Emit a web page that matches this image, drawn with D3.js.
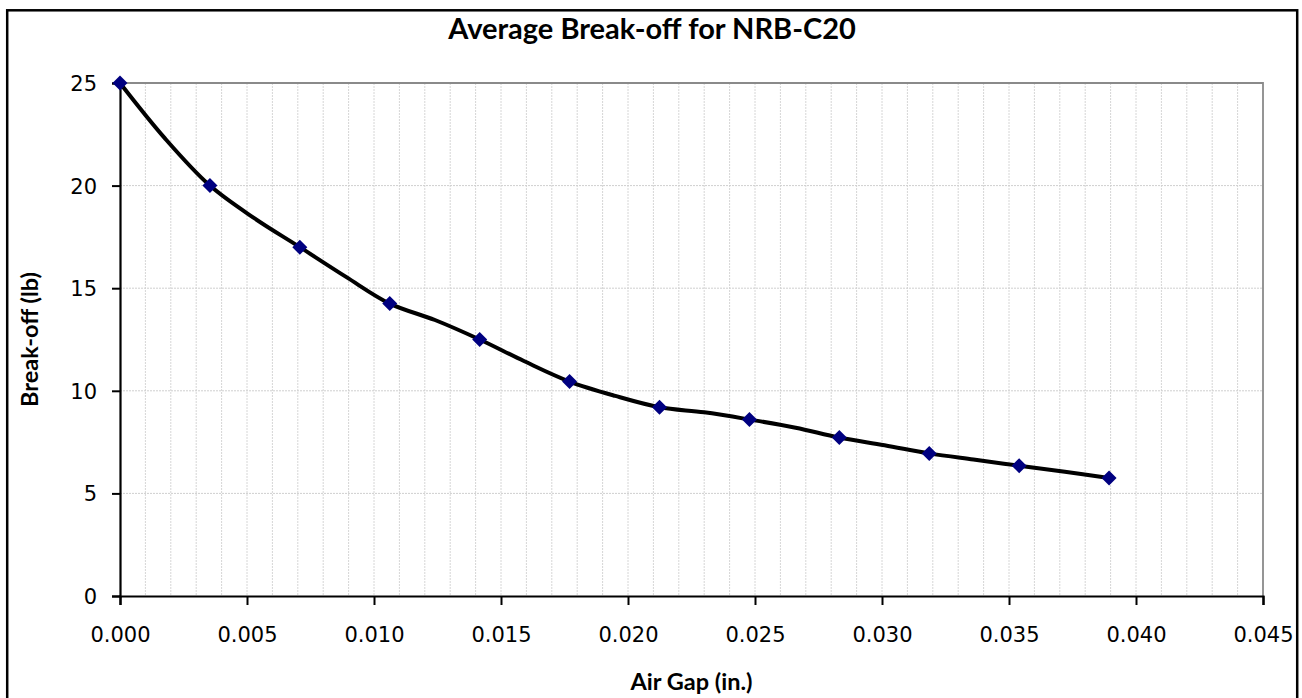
<!DOCTYPE html>
<html>
<head>
<meta charset="utf-8">
<script src="https://cdn.jsdelivr.net/npm/d3@7"></script>
<style>
  html, body { margin: 0; padding: 0; background: #fff; }
  svg { display: block; }
</style>
</head>
<body>
<div id="chart"></div>
<script>
// measured points (air gap in inches, break-off in lb)
const airGap = [0.0000, 0.00354, 0.00708, 0.01062, 0.01416, 0.0177, 0.02124, 0.02478, 0.02832, 0.03186, 0.0354, 0.03894];
const breakOff = [25.0, 20.0, 17.0, 14.25, 12.5, 10.45, 9.2, 8.6, 7.72, 6.95, 6.35, 5.75];

// points of the drawn (smoothed) line
const lineGap = [0.0000, 0.00177, 0.00354, 0.0053, 0.00708, 0.0089, 0.01062, 0.0124, 0.01416, 0.0159, 0.0177, 0.0195,
                 0.02124, 0.0230, 0.02478, 0.0266, 0.02832, 0.0301, 0.03186, 0.0336, 0.0354, 0.0372, 0.03894];
const lineForce = [25.0, 22.3, 20.0, 18.4, 17.0, 15.55, 14.25, 13.45, 12.5, 11.45, 10.45, 9.75,
                   9.2, 8.95, 8.6, 8.2, 7.72, 7.35, 6.95, 6.65, 6.35, 6.05, 5.75];

const xTicks = [0, 0.005, 0.01, 0.015, 0.02, 0.025, 0.03, 0.035, 0.04, 0.045];
const yTicks = [0, 5, 10, 15, 20, 25];

const canvasWidth = 1302;
const canvasHeight = 698;
const plot = { left: 120, right: 1263, top: 83, bottom: 596 };
const tickFont = "'DejaVu Sans', sans-serif";
const titleFont = "Lato, 'Open Sans', sans-serif";

const svg = d3.select("#chart")
    .append("svg")
    .attr("width", canvasWidth)
    .attr("height", canvasHeight);

// chart area border
svg.append("rect")
    .attr("x", 7.2)
    .attr("y", 10.3)
    .attr("width", 1290)
    .attr("height", 700)
    .attr("fill", "#fff")
    .attr("stroke", "#000")
    .attr("stroke-width", 2.5);

const xScale = d3.scaleLinear().domain([0, 0.045]).range([plot.left, plot.right]);
const yScale = d3.scaleLinear().domain([0, 25]).range([plot.bottom, plot.top]);

// minor vertical gridlines every 0.001
const minor = d3.range(1, 45).map(i => i / 1000);
svg.append("g")
    .selectAll("line")
    .data(minor)
    .join("line")
    .attr("x1", d => xScale(d)).attr("x2", d => xScale(d))
    .attr("y1", plot.top).attr("y2", plot.bottom)
    .attr("stroke", "#d6d6d6")
    .attr("stroke-width", 1)
    .attr("stroke-dasharray", "2,1");

// horizontal gridlines
svg.append("g")
    .selectAll("line")
    .data(yTicks.filter(d => d > 0 && d < 25))
    .join("line")
    .attr("x1", plot.left).attr("x2", plot.right)
    .attr("y1", d => yScale(d)).attr("y2", d => yScale(d))
    .attr("stroke", "#cfcfcf")
    .attr("stroke-width", 1)
    .attr("stroke-dasharray", "2,1");

// plot frame top / right
svg.append("path")
    .attr("d", `M${plot.left},${plot.top}H${plot.right}V${plot.bottom}`)
    .attr("fill", "none")
    .attr("stroke", "#8a8a8a")
    .attr("stroke-width", 1.8);

// axes
const xAxis = svg.append("g")
    .attr("transform", `translate(0,${plot.bottom})`)
    .call(d3.axisBottom(xScale).tickValues(xTicks).tickFormat(d3.format(".3f")).tickSize(9).tickPadding(22));

const yAxis = svg.append("g")
    .attr("transform", `translate(${plot.left},0)`)
    .call(d3.axisLeft(yScale).tickValues(yTicks).tickSize(8).tickPadding(15));

[xAxis, yAxis].forEach(ax => {
    ax.select(".domain").attr("stroke", "#000").attr("stroke-width", 2.2);
    ax.selectAll(".tick line").attr("stroke", "#000").attr("stroke-width", 2);
    ax.selectAll(".tick text")
        .attr("fill", "#000")
        .attr("font-family", tickFont)
        .attr("font-size", 21);
});
yAxis.selectAll(".tick text").attr("dy", "0.36em");

// line
const linePts = lineGap.map((g, i) => [g, lineForce[i]]);
svg.append("path")
    .datum(linePts)
    .attr("fill", "none")
    .attr("stroke", "#000")
    .attr("stroke-width", 4)
    .attr("stroke-linejoin", "round")
    .attr("d", d3.line()
        .x(d => xScale(d[0]))
        .y(d => yScale(d[1]))
        .curve(d3.curveCatmullRom.alpha(0.5)));

// markers
svg.append("g")
    .selectAll("path")
    .data(airGap.map((g, i) => [g, breakOff[i]]))
    .join("path")
    .attr("transform", d => `translate(${xScale(d[0])},${yScale(d[1])})`)
    .attr("d", "M0,-7.5L7.5,0L0,7.5L-7.5,0Z")
    .attr("fill", "#000080");

// titles
svg.append("text")
    .attr("x", 652)
    .attr("y", 39)
    .attr("text-anchor", "middle")
    .attr("font-family", titleFont)
    .attr("font-weight", "bold")
    .attr("font-size", 29)
    .text("Average Break-off for NRB-C20");

svg.append("text")
    .attr("x", (plot.left + plot.right) / 2)
    .attr("y", 690)
    .attr("text-anchor", "middle")
    .attr("font-family", titleFont)
    .attr("font-weight", "bold")
    .attr("font-size", 23.5)
    .text("Air Gap (in.)");

svg.append("text")
    .attr("transform", `translate(38,${(plot.top + plot.bottom) / 2}) rotate(-90)`)
    .attr("text-anchor", "middle")
    .attr("font-family", titleFont)
    .attr("font-weight", "bold")
    .attr("font-size", 23.5)
    .text("Break-off (lb)");
</script>
</body>
</html>
